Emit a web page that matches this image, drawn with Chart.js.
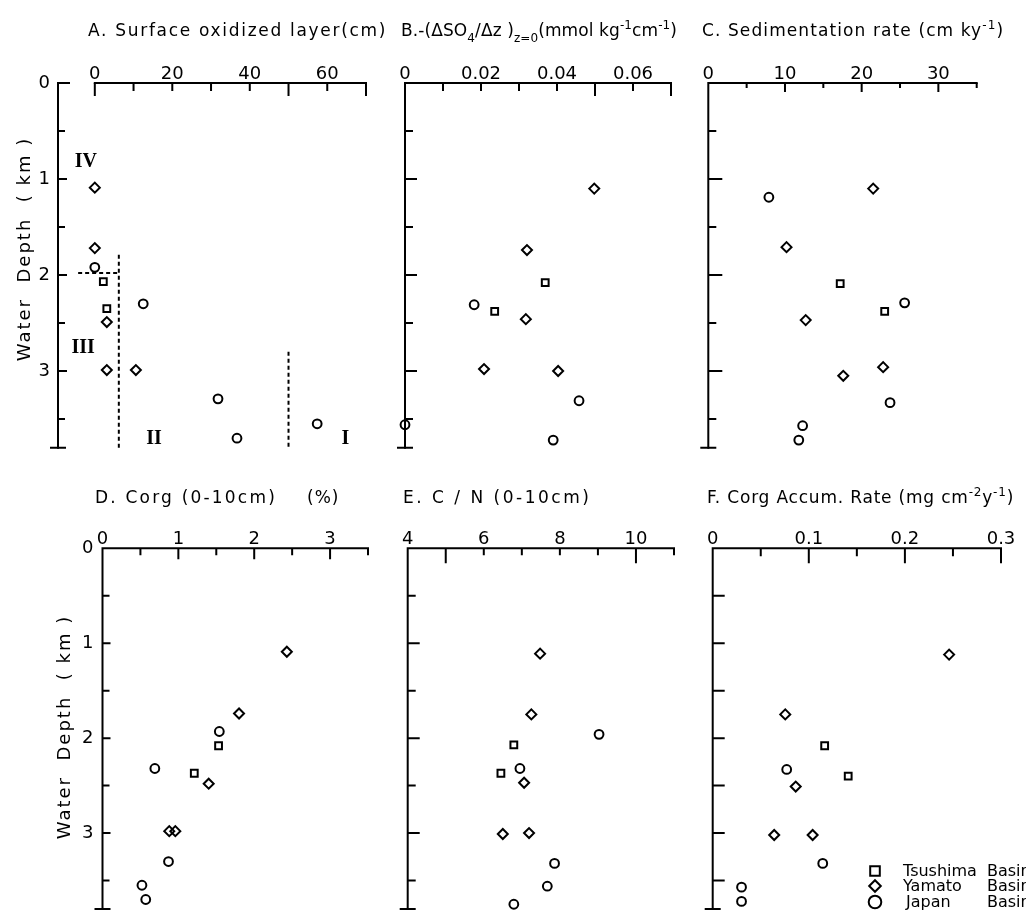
<!DOCTYPE html>
<html>
<head>
<meta charset="utf-8">
<script src="https://cdn.jsdelivr.net/npm/chart.js@4.4.0/dist/chart.umd.min.js"></script>
<style>
  html, body { margin: 0; padding: 0; background: #fff; }
  #wrap { position: relative; width: 1026px; height: 916px; background: #fff; }
  #wrap canvas { position: absolute; left: 0; top: 0; }
</style>
</head>
<body>
<div id="wrap"></div>
<script>
// every point is [panel value, water depth (km)]
const basins = ['Tsushima Basin', 'Yamato Basin', 'Japan Basin'];

// A. surface oxidized layer (cm)
const A_tsushima = [[2.2, 2.07], [3.1, 2.35]];
const A_yamato = [[0, 1.09], [0, 1.72], [3.1, 2.49], [3.1, 2.99], [10.6, 2.99]];
const A_japan = [[0, 1.92], [12.5, 2.30], [31.8, 3.29], [57.4, 3.55], [36.7, 3.70]];

// B. -(dSO4/dz) at z=0 (mmol kg-1 cm-1)
const B_tsushima = [[0.0369, 2.08], [0.0236, 2.38]];
const B_yamato = [[0.0498, 1.10], [0.0321, 1.74], [0.0318, 2.46], [0.0208, 2.98], [0.0403, 3.00]];
const B_japan = [[0.0182, 2.31], [0.0458, 3.31], [0, 3.56], [0.0390, 3.72]];

// C. sedimentation rate (cm ky-1)
const C_tsushima = [[17.2, 2.09], [23.0, 2.38]];
const C_yamato = [[21.5, 1.10], [10.2, 1.71], [12.7, 2.47], [22.8, 2.96], [17.6, 3.05]];
const C_japan = [[7.9, 1.19], [25.6, 2.29], [23.7, 3.33], [12.3, 3.57], [11.8, 3.72]];

// D. Corg 0-10 cm (%)
const D_tsushima = [[1.53, 2.08], [1.21, 2.37]];
const D_yamato = [[2.43, 1.09], [1.80, 1.74], [1.40, 2.48], [0.88, 2.98], [0.96, 2.98]];
const D_japan = [[1.54, 1.93], [0.69, 2.32], [0.87, 3.30], [0.52, 3.55], [0.57, 3.70]];

// E. C/N 0-10 cm
const E_tsushima = [[6.79, 2.07], [6.45, 2.37]];
const E_yamato = [[7.48, 1.11], [7.25, 1.75], [7.06, 2.47], [6.50, 3.01], [7.19, 3.00]];
const E_japan = [[9.03, 1.96], [6.95, 2.32], [7.86, 3.32], [7.67, 3.56], [6.79, 3.75]];

// F. Corg accumulation rate (mg cm-2 y-1)
const F_tsushima = [[0.1165, 2.08], [0.141, 2.40]];
const F_yamato = [[0.246, 1.12], [0.0755, 1.75], [0.0864, 2.51], [0.064, 3.02], [0.104, 3.02]];
const F_japan = [[0.077, 2.33], [0.1145, 3.32], [0.030, 3.57], [0.030, 3.72]];

// axis ticks
const depthLabels = ['0', '1', '2', '3'];
const depthMarks = [0.5, 1, 1.5, 2, 2.5, 3, 3.5];
const A_xLabels = ['0', '20', '40', '60'];
const A_xMarks = [0, 10, 20, 30, 40, 50, 60, 70];
const B_xLabels = ['0', '0.02', '0.04', '0.06'];
const B_xMarks = [0.01, 0.02, 0.03, 0.04, 0.05, 0.06, 0.07];
const C_xLabels = ['0', '10', '20', '30'];
const C_xMarks = [5, 10, 15, 20, 25, 30, 35];
const D_xLabels = ['0', '1', '2', '3'];
const D_xMarks = [0.5, 1, 1.5, 2, 2.5, 3, 3.5];
const E_xLabels = ['4', '6', '8', '10'];
const E_xMarks = [5, 6, 7, 8, 9, 10, 11];
const F_xLabels = ['0', '0.1', '0.2', '0.3'];
const F_xMarks = [0.05, 0.1, 0.15, 0.2, 0.25, 0.3];

// annotations of panel A: zone boundaries and zone names
const A_vBounds = [[6.2, 1.79, 3.8], [50, 2.8, 3.8]];   // [x, from depth, to depth]
const A_hBounds = [[-4.3, 6.2, 1.98]];                 // [from x, to x, depth]
const A_zones = [['IV', -2.3, 0.82], ['III', -3.0, 2.76], ['II', 15.3, 3.71], ['I', 64.7, 3.71]];

const FONT = '"DejaVu Sans"';
const W = 1026, H = 916;

const panels = [
  { key: 'A', box: [58, 83, 366, 447.8], xMin: -9.5, xMax: 70, data: [A_tsushima, A_yamato, A_japan],
    xLabels: A_xLabels, xMarks: A_xMarks, xLong: [0, 50, 70], xLen: [13, 8], xLine: [0, 70],
    yLabels: depthLabels, yPad: 8, yLen: [9, 7], zeroTick: true,
    yTitle: [25, 249],
    title: { x: 88, y: 36, ls: 1.7, segs: [{ t: 'A. Surface oxidized layer(cm)' }] } },
  { key: 'B', box: [405, 83, 671, 447.8], xMin: 0, xMax: 0.07, data: [B_tsushima, B_yamato, B_japan],
    xLabels: B_xLabels, xMarks: B_xMarks, xLong: [0.05, 0.07], xLen: [13, 8],
    yLen: [12, 8],
    title: { x: 401, y: 36, ls: 0.1, segs: [{ t: 'B.-(ΔSO' }, { t: '4', sub: 1 }, { t: '/Δz )' }, { t: 'z=0', sub: 1 },
      { t: '(mmol kg' }, { t: '-1', sup: 1 }, { t: 'cm' }, { t: '-1', sup: 1 }, { t: ')' }] } },
  { key: 'C', box: [708.3, 83, 976.7, 447.8], xMin: 0, xMax: 35, data: [C_tsushima, C_yamato, C_japan],
    xLabels: C_xLabels, xMarks: C_xMarks, xLong: [10, 20, 30], xLen: [9, 5],
    yLen: [14, 8],
    title: { x: 702, y: 36, ls: 1.1, segs: [{ t: 'C. Sedimentation rate (cm ky' }, { t: '-1', sup: 1 }, { t: ')' }] } },
  { key: 'D', box: [102.5, 548.3, 368, 913], xMin: 0, xMax: 3.5, data: [D_tsushima, D_yamato, D_japan],
    xLabels: D_xLabels, xMarks: D_xMarks, xLong: [1, 2, 3], xLen: [11, 7],
    yLabels: depthLabels, yPad: 9, yLen: [8, 7],
    yTitle: [65, 727],
    title: { x: 95, y: 503, ls: 2.2, segs: [{ t: 'D. Corg (0-10cm)' }] },
    title2: { x: 307, y: 503, ls: 1, segs: [{ t: '(%)' }] } },
  { key: 'E', box: [407.7, 548.3, 674, 913], xMin: 4, xMax: 11, data: [E_tsushima, E_yamato, E_japan],
    xLabels: E_xLabels, xMarks: E_xMarks, xLong: [5, 10], xLen: [15, 7],
    yLen: [12, 8],
    title: { x: 403, y: 503, ls: 2.5, segs: [{ t: 'E. C / N (0-10cm)' }] } },
  { key: 'F', box: [712.7, 548.3, 1001, 913], xMin: 0, xMax: 0.3, data: [F_tsushima, F_yamato, F_japan],
    xLabels: F_xLabels, xMarks: F_xMarks, xLong: [0.1, 0.2, 0.3], xLen: [15, 8],
    yLen: [12, 12], legend: true,
    title: { x: 707, y: 503, ls: 0.8, segs: [{ t: 'F. Corg Accum. Rate (mg cm' }, { t: '-2', sup: 1 }, { t: 'y' },
      { t: '-1', sup: 1 }, { t: ')' }] } }
];

const markers = [
  { pointStyle: 'rect', radius: 4.8 },
  { pointStyle: 'rectRot', radius: 5 },
  { pointStyle: 'circle', radius: 4.4 }
];

function drawRich(ctx, t) {
  let x = t.x;
  ctx.textAlign = 'left';
  ctx.textBaseline = 'alphabetic';
  ctx.letterSpacing = (t.ls || 0) + 'px';
  t.segs.forEach(s => {
    const small = s.sub || s.sup;
    ctx.font = (small ? 12 : 17) + 'px ' + FONT;
    const dy = s.sub ? 6 : s.sup ? -7 : 0;
    ctx.fillText(s.t, x, t.y + dy);
    x += ctx.measureText(s.t).width;
  });
  ctx.letterSpacing = '0px';
}

function drawMarker(ctx, style, x, y, r) {
  ctx.beginPath();
  if (style === 'rect') {
    ctx.rect(x - r, y - r, 2 * r, 2 * r);
  } else if (style === 'rectRot') {
    ctx.moveTo(x - r, y); ctx.lineTo(x, y - r); ctx.lineTo(x + r, y); ctx.lineTo(x, y + r); ctx.closePath();
  } else {
    ctx.arc(x, y, r, 0, Math.PI * 2);
  }
  ctx.stroke();
}

function makeDecor(p) {
  return {
    id: 'decor' + p.key,
    afterDatasetsDraw(chart) {
      const { ctx, chartArea: a } = chart;
      const xs = chart.scales.x, ys = chart.scales.y;
      ctx.save();
      ctx.strokeStyle = '#000';
      ctx.fillStyle = '#000';
      ctx.lineWidth = 2;

      // frame lines
      ctx.lineCap = 'square';
      ctx.beginPath();
      const line = p.xLine || [p.xMin, p.xMax];
      ctx.moveTo(xs.getPixelForValue(line[0]), a.top);
      ctx.lineTo(xs.getPixelForValue(line[1]), a.top);
      ctx.moveTo(a.left, a.top);
      ctx.lineTo(a.left, a.bottom);
      ctx.stroke();

      // tick marks, pointing into the plot
      ctx.lineCap = 'butt';
      ctx.beginPath();
      p.xMarks.forEach(v => {
        const px = xs.getPixelForValue(v);
        const len = p.xLong.includes(v) ? p.xLen[0] : p.xLen[1];
        ctx.moveTo(px, a.top); ctx.lineTo(px, a.top + len);
      });
      depthMarks.forEach(v => {
        const py = ys.getPixelForValue(v);
        const len = Number.isInteger(v) ? p.yLen[0] : p.yLen[1];
        ctx.moveTo(a.left, py); ctx.lineTo(a.left + len, py);
      });
      if (p.zeroTick) { ctx.moveTo(a.left, a.top); ctx.lineTo(a.left + 12, a.top); }
      ctx.moveTo(a.left - 8, a.bottom); ctx.lineTo(a.left + 8, a.bottom);
      ctx.stroke();

      if (p.key === 'A') {
        ctx.setLineDash([4, 3]);
        ctx.beginPath();
        A_vBounds.forEach(([v, d0, d1]) => {
          const px = xs.getPixelForValue(v);
          ctx.moveTo(px, ys.getPixelForValue(d0)); ctx.lineTo(px, ys.getPixelForValue(d1));
        });
        A_hBounds.forEach(([v0, v1, d]) => {
          const py = ys.getPixelForValue(d);
          ctx.moveTo(xs.getPixelForValue(v0), py); ctx.lineTo(xs.getPixelForValue(v1), py);
        });
        ctx.stroke();
        ctx.setLineDash([]);
        ctx.font = 'bold 20px "Liberation Serif"';
        ctx.textAlign = 'center';
        ctx.textBaseline = 'middle';
        A_zones.forEach(([t, v, d]) => ctx.fillText(t, xs.getPixelForValue(v), ys.getPixelForValue(d)));
      }

      if (p.legend) {
        const rows = [871, 886, 902];
        const sizes = [4.8, 5.8, 6.3];
        basins.forEach((name, i) => {
          drawMarker(ctx, markers[i].pointStyle, 875, rows[i], sizes[i]);
          const [first, second] = name.split(' ');
          ctx.font = '16px ' + FONT;
          ctx.textAlign = 'left';
          ctx.textBaseline = 'middle';
          ctx.fillText(first, i === 2 ? 906 : 903, rows[i] + 1);
          ctx.fillText(second, 987, rows[i] + 1);
        });
      }

      drawRich(ctx, p.title);
      if (p.title2) drawRich(ctx, p.title2);

      if (p.yTitle) {
        ctx.save();
        ctx.translate(p.yTitle[0], p.yTitle[1]);
        ctx.rotate(-Math.PI / 2);
        ctx.font = '18px ' + FONT;
        ctx.letterSpacing = '2px';
        ctx.textAlign = 'center';
        ctx.textBaseline = 'middle';
        ctx.fillText('Water  Depth  ( km )', 0, 0);
        ctx.restore();
      }
      ctx.restore();
    }
  };
}

// keep Chart.js from widening the layout for overhanging tick labels
function noOverhang(s) {
  s.paddingLeft = 0; s.paddingRight = 0; s.paddingTop = 0; s.paddingBottom = 0;
}

const wrap = document.getElementById('wrap');
const AXIS_W = 40, AXIS_H = 24;

panels.forEach(p => {
  const canvas = document.createElement('canvas');
  canvas.width = W; canvas.height = H;
  wrap.appendChild(canvas);
  const [l, t, r, b] = p.box;
  new Chart(canvas.getContext('2d'), {
    type: 'scatter',
    data: {
      datasets: p.data.map((pts, i) => ({
        label: basins[i],
        data: pts.map(([v, d]) => ({ x: v, y: d })),
        pointStyle: markers[i].pointStyle,
        pointRadius: markers[i].radius,
        pointBorderWidth: 2,
        borderColor: '#000',
        backgroundColor: 'rgba(0,0,0,0)',
        clip: false
      }))
    },
    options: {
      responsive: false,
      animation: false,
      events: [],
      layout: { padding: { left: l - AXIS_W, top: t - AXIS_H, right: W - r, bottom: H - b } },
      scales: {
        x: {
          type: 'linear', position: 'top', min: p.xMin, max: p.xMax,
          grid: { display: false, drawTicks: false }, border: { display: false },
          afterBuildTicks: s => { s.ticks = p.xLabels.map(lb => ({ value: Number(lb) })); },
          afterFit: s => { s.height = AXIS_H; noOverhang(s); },
          ticks: {
            autoSkip: false, maxRotation: 0, padding: 0, color: '#000',
            font: { family: 'DejaVu Sans', size: 18, lineHeight: 1 },
            callback: (v, i) => p.xLabels[i]
          }
        },
        y: {
          type: 'linear', position: 'left', reverse: true, min: 0, max: 3.8,
          grid: { display: false, drawTicks: false }, border: { display: false },
          afterBuildTicks: s => { s.ticks = depthLabels.map(lb => ({ value: Number(lb) })); },
          afterFit: s => { s.width = AXIS_W; noOverhang(s); },
          ticks: {
            display: !!p.yLabels, autoSkip: false, padding: p.yPad || 0, color: '#000',
            font: { family: 'DejaVu Sans', size: 18, lineHeight: 1 },
            callback: (v, i) => depthLabels[i]
          }
        }
      },
      plugins: { legend: { display: false }, tooltip: { enabled: false } }
    },
    plugins: [makeDecor(p)]
  });
});
</script>
</body>
</html>
